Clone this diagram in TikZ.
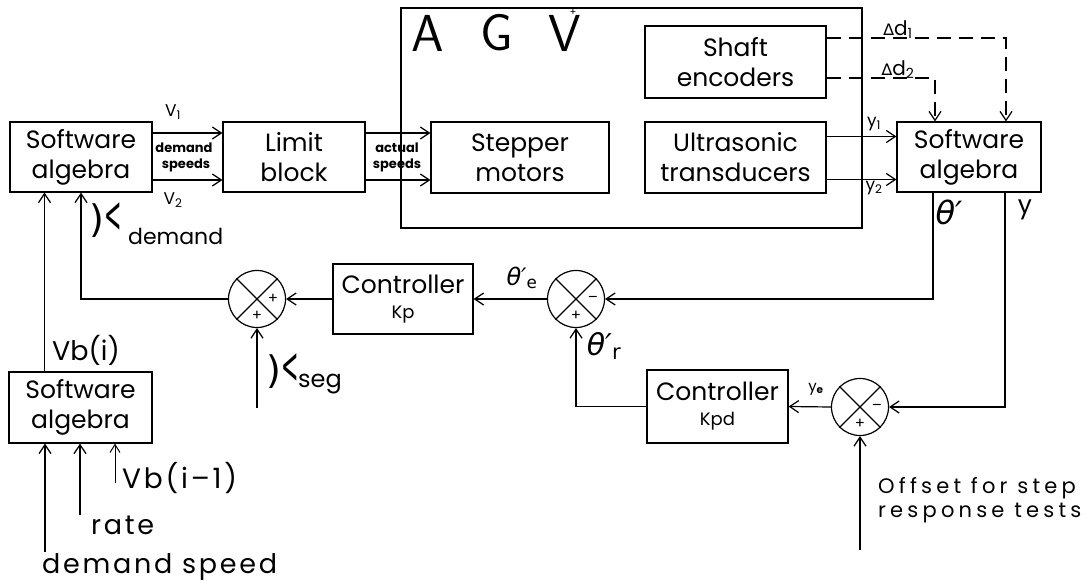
\documentclass[tikz,border=0pt]{standalone}
\usepackage{fontspec}
\setmainfont{Poppins}
\newfontfamily\dejavu{DejaVu Sans}
\newfontfamily\widefont[LetterSpace=10]{Poppins}
\newfontfamily\widerfont[LetterSpace=20]{Poppins}
\usetikzlibrary{arrows.meta,calc}
\newcommand{\kapglyph}{{\dejavu)}\raisebox{0.5pt}{\scalebox{0.55}[1.35]{\dejavu<}}}
\begin{document}
\begin{tikzpicture}[x=1pt,y=-1pt,
  box/.style={draw,line width=1.2pt,inner sep=0pt,align=center,font=\fontsize{25}{30}\selectfont},
  sumj/.style={draw,circle,line width=1.2pt,minimum size=57pt,inner sep=0pt},
  conn/.style={line width=1.2pt},
  arr/.style={conn,-{Straight Barb[length=9pt,width=12pt,line width=1.2pt]}},
  dsh/.style={arr,dash pattern=on 14pt off 8pt},
  lbl/.style={inner sep=0pt,font=\fontsize{21}{25}\selectfont},
  tiny/.style={inner sep=0pt,font=\bfseries\fontsize{13}{14}\selectfont},
  sign/.style={inner sep=0pt,font=\fontsize{15}{15}\selectfont}
]
\useasboundingbox (0,0) rectangle (1087,586);
% boxes
\node[box,minimum width=142pt,minimum height=70pt] (sa1) at (81,157) {Software\\algebra};
\node[box,minimum width=142pt,minimum height=70pt] (limit) at (294,157) {Limit\\block};
\node[draw,line width=1.2pt,minimum width=461pt,minimum height=220pt,inner sep=0pt] (agv) at (631.5,118) {};
\node[box,minimum width=178pt,minimum height=71pt] (stepper) at (520,157.5) {Stepper\\motors};
\node[box,minimum width=181pt,minimum height=71pt] (ultra) at (735.5,157.5) {Ultrasonic\\transducers};
\node[box,minimum width=181pt,minimum height=72pt] (shaft) at (735.5,62) {Shaft\\encoders};
\node[box,minimum width=144pt,minimum height=70pt] (sa2) at (969,157) {Software\\algebra};
\node[box,minimum width=140pt,minimum height=70pt] (kp) at (403,299) {Controller\\[-5pt]{\fontsize{18}{20}\selectfont Kp}};
\node[box,minimum width=141pt,minimum height=73pt] (kpd) at (717.5,406.5) {Controller\\[-5pt]{\fontsize{18}{20}\selectfont Kpd}};
\node[box,minimum width=143pt,minimum height=71pt] (sa3) at (80.5,407.5) {Software\\algebra};
% summing junctions
\node[sumj] (s1) at (257,299) {};
\node[sumj] (s2) at (576,299) {};
\node[sumj] (s3) at (860,407) {};
\foreach \s in {s1,s2,s3}{
  \draw[conn] (\s.north west) -- (\s.south east);
  \draw[conn] (\s.south west) -- (\s.north east);
}
\node[sign] (p1r) at ($(s1)+(16,0)$) {+};
\node[sign] (p1b) at ($(s1)+(0,17)$) {+};
\node[sign] (m2r) at ($(s2)+(17,0)$) {–};
\node[sign] (p2b) at ($(s2)+(0,17)$) {+};
\node[sign] (m3r) at ($(s3)+(17,0)$) {–};
\node[sign] (p3b) at ($(s3)+(0,17)$) {+};
% AGV title
\node[inner sep=0pt,font=\sffamily\fontsize{52}{52}\selectfont] (tA) at (428,33) {A};
\node[inner sep=0pt,font=\sffamily\fontsize{52}{52}\selectfont] (tG) at (497,33) {G};
\node[inner sep=0pt,font=\sffamily\fontsize{52}{52}\selectfont] (tV) at (565,33) {V};
\node[inner sep=0pt,font=\fontsize{10}{10}\selectfont] (tplus) at (573,12) {+};
% forward connectors
\draw[arr] ([yshift=24pt]sa1.east) -- ([yshift=24pt]sa1.east -| limit.west);
\draw[arr] ([yshift=-23pt]sa1.east) -- ([yshift=-23pt]sa1.east -| limit.west);
\draw[arr] ([yshift=24pt]limit.east) -- ([yshift=24pt]limit.east -| stepper.west);
\draw[arr] ([yshift=-23pt]limit.east) -- ([yshift=-23pt]limit.east -| stepper.west);
\draw[arr] ([yshift=21pt]ultra.east) -- ([yshift=21pt]ultra.east -| sa2.west);
\draw[arr] ([yshift=-22pt]ultra.east) -- ([yshift=-22pt]ultra.east -| sa2.west);
\draw[dsh] ([yshift=24pt]shaft.east) -| ([xshift=37pt]sa2.north);
\draw[dsh] ([yshift=-16pt]shaft.east) -| ([xshift=-34pt]sa2.north);
% feedback
\draw[arr] ([xshift=-36pt]sa2.south) |- (s2.east);
\draw[arr] ([xshift=36pt]sa2.south) |- (s3.east);
\draw[arr] (s2.west) -- (kp.east);
\draw[arr] (kp.west) -- (s1.east);
\draw[arr] (s1.west) -| (sa1.south);
\draw[arr] ([xshift=-36pt]sa3.north) -- ([xshift=-36pt]sa3.north |- sa1.south);
\draw[arr] (s3.west) -- (kpd.east);
\draw[arr] (kpd.west) -| (s2.south);
% external inputs
\coordinate (in1) at (45,552);
\coordinate (in2) at (80,515);
\coordinate (in3) at (115,483);
\coordinate (inseg) at (257,408);
\coordinate (inoff) at (860,550);
\draw[arr] (in1) -- (in1 |- sa3.south);
\draw[arr] (in2) -- (in2 |- sa3.south);
\draw[conn,-{Straight Barb[length=8pt,width=10pt,line width=1pt]},line width=1pt] (in3) -- (in3 |- sa3.south);
\draw[arr] (inseg) -- (s1.south);
\draw[arr] (inoff) -- (s3.south);
% labels
\node[lbl,font=\fontsize{17}{20}\selectfont] (lv1) at (173,112) {V\textsubscript{1}};
\node[lbl,font=\fontsize{17}{20}\selectfont] (lv2) at (173,200) {V\textsubscript{2}};
\node[tiny] (ld1) at (184,148) {demand};
\node[tiny] (ld2) at (186,165) {speeds};
\node[tiny] (la1) at (397,148) {actual};
\node[tiny] (la2) at (397,165) {speeds};
\node[lbl,font=\fontsize{20}{20}\selectfont] (ldd1) at (898,30) {{\dejavu\fontsize{16}{16}\selectfont ∆}d\textsubscript{1}};
\node[lbl,font=\fontsize{20}{20}\selectfont] (ldd2) at (898,70) {{\dejavu\fontsize{16}{16}\selectfont ∆}d\textsubscript{2}};
\node[lbl,font=\fontsize{17}{18}\selectfont] (ly1) at (874,124) {y\textsubscript{1}};
\node[lbl,font=\fontsize{17}{18}\selectfont] (ly2) at (874,188) {y\textsubscript{2}};
\node[lbl,font=\dejavu\itshape\fontsize{32}{34}\selectfont] (lth) at (949,212) {θ′};
\node[lbl,font=\fontsize{25}{25}\selectfont] (ly) at (1025,210) {y};
\node[lbl,font=\dejavu\itshape\fontsize{24}{26}\selectfont] (lthe) at (522,278) {θ′\textsubscript{\upshape e}};
\node[lbl,font=\dejavu\itshape\fontsize{30}{32}\selectfont] (lthr) at (604,346) {θ′\textsubscript{\upshape r}};
\node[lbl,font=\fontsize{15}{16}\selectfont] (lye) at (816,389) {y\textsubscript{\bfseries e}};
\node[lbl,font=\fontsize{38}{38}\selectfont] (kd) at (106,220) {\kapglyph};
\node[lbl,anchor=west,font=\fontsize{22}{25}\selectfont] (lkd) at (128,236) {demand};
\node[lbl,font=\fontsize{38}{38}\selectfont] (ks) at (283,371) {\kapglyph};
\node[lbl,anchor=west,font=\fontsize{24}{25}\selectfont] (lks) at (298,384) {seg};
\node[lbl,font=\fontsize{27}{30}\selectfont] (lvbi) at (86,350) {Vb(i)};
\node[lbl,anchor=west,font=\widefont\fontsize{28}{30}\selectfont] (lvbi1) at (122,478) {Vb(i–1)};
\node[lbl,anchor=west,font=\widefont\fontsize{27}{30}\selectfont] (lrate) at (91,525) {rate};
\node[lbl,anchor=west,font=\widefont\fontsize{27}{30}\selectfont] (ldem) at (42,567) {demand speed};
\node[lbl,anchor=west,font=\widerfont\fontsize{21}{25}\selectfont] (loff1) at (878,488) {Offset for step};
\node[lbl,anchor=west,font=\widerfont\fontsize{21}{25}\selectfont] (loff2) at (878,513) {response tests};
\end{tikzpicture}
\end{document}
